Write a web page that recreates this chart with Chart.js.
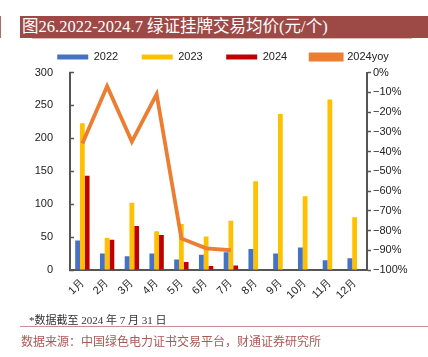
<!DOCTYPE html>
<html><head><meta charset="utf-8">
<script src="https://cdn.jsdelivr.net/npm/chart.js@4.4.1/dist/chart.umd.min.js"></script>
<style>
html,body{margin:0;padding:0;background:#fff;}
body{width:428px;height:357px;position:relative;overflow:hidden;}
#wrap{position:absolute;left:0;top:0;width:428px;height:357px;}
.title{position:absolute;left:20px;top:16px;width:408px;height:22px;background:#9d4a47;color:#fff;
 font-family:"Liberation Serif","Noto Sans CJK SC",serif;font-size:16.5px;line-height:22px;padding-left:2px;box-sizing:border-box;white-space:nowrap;}
.tline{position:absolute;left:32px;top:38px;width:380px;height:1px;background:#d9bcba;}
.lstrip{position:absolute;left:0;top:16px;width:1px;height:22px;background:#b06a67;}
.note{position:absolute;left:29px;top:311px;font-family:"Liberation Serif","Noto Sans CJK SC",serif;font-size:11px;color:#333;white-space:nowrap;}
.sep{position:absolute;left:20px;top:326px;width:408px;height:1px;background:#c9908d;}
.src{position:absolute;left:21px;top:332px;font-family:"Noto Sans CJK SC",serif;font-size:12px;color:#a85a57;white-space:nowrap;}
</style></head>
<body>
<div class="lstrip"></div>
<div class="title">图26.2022-2024.7 绿证挂牌交易均价(元/个)</div>
<div class="tline"></div>
<div id="wrap"><canvas id="c" width="428" height="357"></canvas></div>
<div class="note">*数据截至 2024 年 7 月 31 日</div>
<div class="sep"></div>
<div class="src">数据来源：中国绿色电力证书交易平台，财通证券研究所</div>
<script>
const months = ['1月','2月','3月','4月','5月','6月','7月','8月','9月','10月','11月','12月'];
const v2022 = [45, 25, 21, 25, 16, 23, 27, 32, 25, 34, 15, 18];
const v2023 = [223, 49, 102, 59, 70, 51, 75, 135, 237, 112, 259, 80];
const v2024 = [143, 46, 67, 53, 12, 6, 7, null, null, null, null, null];
const yoy2024 = [-36, -7, -35, -11, -84, -89, -90, null, null, null, null, null];
const leftTicks = [0, 50, 100, 150, 200, 250, 300];
const rightTicks = [0, -10, -20, -30, -40, -50, -60, -70, -80, -90, -100];

const axisColor = '#555555';
const tickFont = {family: '"Liberation Sans", Arial, sans-serif', size: 11};

const legendShift = {
  id: 'legendShift',
  afterInit(chart) {
    const L = chart.legend;
    if (!L) return;
    const origDraw = L.draw.bind(L);
    L.draw = function () {
      const ctx = chart.ctx;
      ctx.save(); ctx.translate(9, 0); origDraw(); ctx.restore();
    };
  }
};

new Chart(document.getElementById('c'), {
  type: 'bar',
  data: {
    labels: months,
    datasets: [
      {label: '2022', data: v2022, backgroundColor: '#4472C4', yAxisID: 'y', order: 1, categoryPercentage: 0.58, barPercentage: 1.0},
      {label: '2023', data: v2023, backgroundColor: '#FFC000', yAxisID: 'y', order: 1, categoryPercentage: 0.58, barPercentage: 1.0},
      {label: '2024', data: v2024, backgroundColor: '#C00000', yAxisID: 'y', order: 1, categoryPercentage: 0.58, barPercentage: 1.0},
      {label: '2024yoy', type: 'line', data: yoy2024, yAxisID: 'y1', order: 0,
       borderColor: '#ED7D31', backgroundColor: '#ED7D31', borderWidth: 3.8, pointRadius: 0, tension: 0, spanGaps: false,
       borderCapStyle: 'butt', borderJoinStyle: 'miter'}
    ]
  },
  plugins: [legendShift],
  options: {
    responsive: false,
    animation: false,
    devicePixelRatio: 1,
    layout: {padding: {top: 28, left: 0, right: 0, bottom: 47}},
    plugins: {
      tooltip: {enabled: false},
      legend: {
        display: true, position: 'top',
        labels: {
          boxWidth: 31, boxHeight: 5, padding: 23.5, color: '#222',
          font: {family: '"Liberation Sans", Arial, sans-serif', size: 11},
          sort: (a, b) => a.datasetIndex - b.datasetIndex
        }
      }
    },
    scales: {
      x: {
        grid: {display: false, drawTicks: false},
        border: {display: true, color: axisColor, width: 2},
        ticks: {color: '#222', font: tickFont, minRotation: 45, maxRotation: 45, padding: 6, autoSkip: false},
        afterFit: s => { s.height = 40; }
      },
      y: {
        position: 'left', min: 0, max: 300,
        afterBuildTicks: s => { s.ticks = leftTicks.map(v => ({value: v})); },
        grid: {drawOnChartArea: false, drawTicks: true, tickLength: -4, color: axisColor, tickWidth: 1.5},
        border: {display: true, color: axisColor, width: 2},
        ticks: {color: '#222', font: tickFont, padding: 21},
        afterFit: s => { s.width = 70; }
      },
      y1: {
        position: 'right', min: -100, max: 0,
        afterBuildTicks: s => { s.ticks = rightTicks.map(v => ({value: v})); },
        grid: {drawOnChartArea: false, drawTicks: true, tickLength: 4, color: axisColor, tickWidth: 1.5},
        border: {display: true, color: axisColor, width: 2},
        ticks: {color: '#222', font: tickFont, padding: 2,
          callback: v => (v < 0 ? '\u2212' + Math.abs(v) : v) + '%'},
        afterFit: s => { s.width = 61; }
      }
    }
  }
});
</script>
</body></html>
